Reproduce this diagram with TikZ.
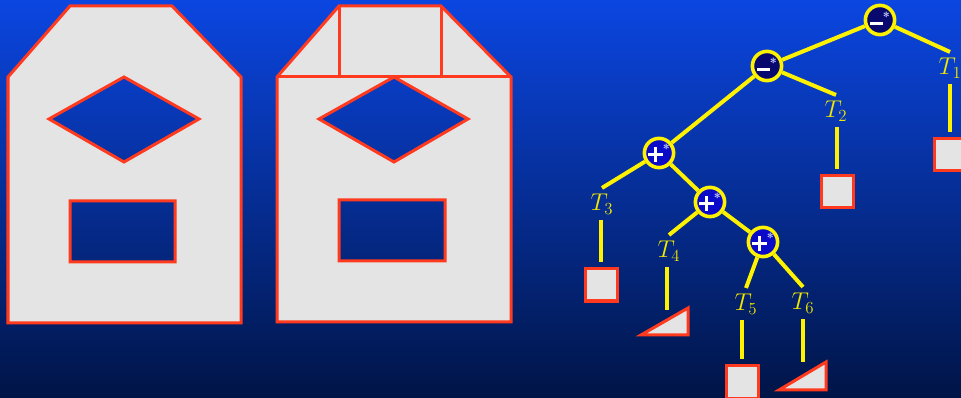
\documentclass[tikz,border=0pt]{standalone}
\usepackage{amsmath,amssymb}
\usepackage{tikz}
\usetikzlibrary{arrows.meta,positioning,calc}
\definecolor{bgTop}{RGB}{11,70,225}
\definecolor{bgMid}{RGB}{5,48,160}
\definecolor{bgBot}{RGB}{0,20,70}
\definecolor{edgeRed}{RGB}{255,58,30}
\definecolor{paneGray}{RGB}{228,228,228}
\definecolor{opDark}{RGB}{8,8,110}
\definecolor{opBright}{RGB}{10,10,200}
\definecolor{starBlue}{RGB}{185,195,255}
\definecolor{labelYellow}{RGB}{240,232,0}
\tikzset{
  houseln/.style={draw=edgeRed, fill=paneGray, line width=0.075cm, line join=miter},
  branchln/.style={yellow, line width=0.1cm},
  opnode/.style={circle, draw=yellow, line width=0.09cm, minimum size=0.73cm, inner sep=0pt,
    font=\sffamily\bfseries\fontsize{13}{13}\selectfont},
  leafbox/.style={draw=edgeRed, fill=paneGray, line width=0.075cm, minimum size=0.8cm, inner sep=0pt},
  tlabel/.style={labelYellow, inner sep=4pt, font=\fontsize{18}{20}\selectfont},
}
\newcommand{\minusbar}{\textcolor{white}{\rule[2.2pt]{9pt}{2.2pt}}}
\newcommand{\plusbar}{\textcolor{white}{\rule[3.2pt]{10.5pt}{2.6pt}\hspace*{-6.55pt}\rule[-0.75pt]{2.6pt}{10.5pt}\hspace*{3.95pt}}}
\newcommand{\opsym}[1]{#1\raisebox{5pt}{\textcolor{starBlue}{\fontsize{9}{9}\selectfont *}}}

\begin{document}
\begin{tikzpicture}[x=0.025cm, y=-0.025cm]
    % background
    \shade[top color=bgTop, middle color=bgMid, bottom color=bgBot] (0,0) rectangle (961,398);
    \useasboundingbox (0,0) rectangle (961,398);
    % left: house in one piece
    \filldraw[houseln, even odd rule] (8,77) -- (70,6) -- (172,6) -- (241,77) -- (241,323) -- (8,323) -- cycle
      (49,119) -- (124,77) -- (199,119) -- (124,162) -- cycle
      (70,201) rectangle (175,262);
    % middle: house cut into pieces
    \filldraw[houseln, even odd rule] (277,77) -- (339,6) -- (441,6) -- (511,77) -- (511,322) -- (277,322) -- cycle
      (319,119) -- (394,77) -- (468,119) -- (394,162) -- cycle
      (339,200) rectangle (445,261);
    \draw[houseln, fill=none] (277,77) -- (511,77) (339,6) -- (339,77) (441,6) -- (441,77);
    % right: tree
    \node[opnode, fill=opDark] (m1) at (880,20) {\opsym{\minusbar}};
    \node[opnode, fill=opDark] (m2) at (767,66) {\opsym{\minusbar}};
    \node[opnode, fill=opBright] (p1) at (659,153) {\opsym{\plusbar}};
    \node[opnode, fill=opBright] (p2) at (710,202) {\opsym{\plusbar}};
    \node[opnode, fill=opBright] (p3) at (763,242) {\opsym{\plusbar}};
    \node[tlabel] (t1) at (950,68) {$T_1$};
    \node[tlabel] (t2) at (836,111) {$T_2$};
    \node[tlabel] (t3) at (602,204) {$T_3$};
    \node[tlabel] (t4) at (669,251) {$T_4$};
    \node[tlabel] (t5) at (746,304) {$T_5$};
    \node[tlabel] (t6) at (803,303) {$T_6$};
    \draw[branchln] (m1) -- (m2);
    \draw[branchln] (m1) -- (t1.north);
    \draw[branchln] (m2) -- (p1);
    \draw[branchln] (m2) -- (t2.north);
    \draw[branchln] (p1) -- (t3.north);
    \draw[branchln] (p1) -- (p2);
    \draw[branchln] (p2) -- (t4.north);
    \draw[branchln] (p2) -- (p3);
    \draw[branchln] (p3) -- (t5.north);
    \draw[branchln] (p3) -- (t6.north);
    % leaves
    \node[leafbox] (q1) at (950,155) {};
    \node[leafbox] (q2) at (837,192) {};
    \node[leafbox] (q3) at (601,285) {};
    \node[leafbox] (q5) at (742,382) {};
    \filldraw[houseln] (641,335) -- (688,308) -- (688,335) -- cycle;
    \filldraw[houseln] (779,390) -- (826,362) -- (826,390) -- cycle;
    \coordinate (q4) at (667,310);
    \coordinate (q6) at (803,362);
    \draw[branchln, shorten >=4pt] (q1 |- t1.south) -- (q1.north);
    \draw[branchln, shorten >=4pt] (q2 |- t2.south) -- (q2.north);
    \draw[branchln, shorten >=4pt] (q3 |- t3.south) -- (q3.north);
    \draw[branchln] (q4 |- t4.south) -- (q4);
    \draw[branchln, shorten >=4pt] (q5 |- t5.south) -- (q5.north);
    \draw[branchln] (q6 |- t6.south) -- (q6);
  \end{tikzpicture}
\end{document}
